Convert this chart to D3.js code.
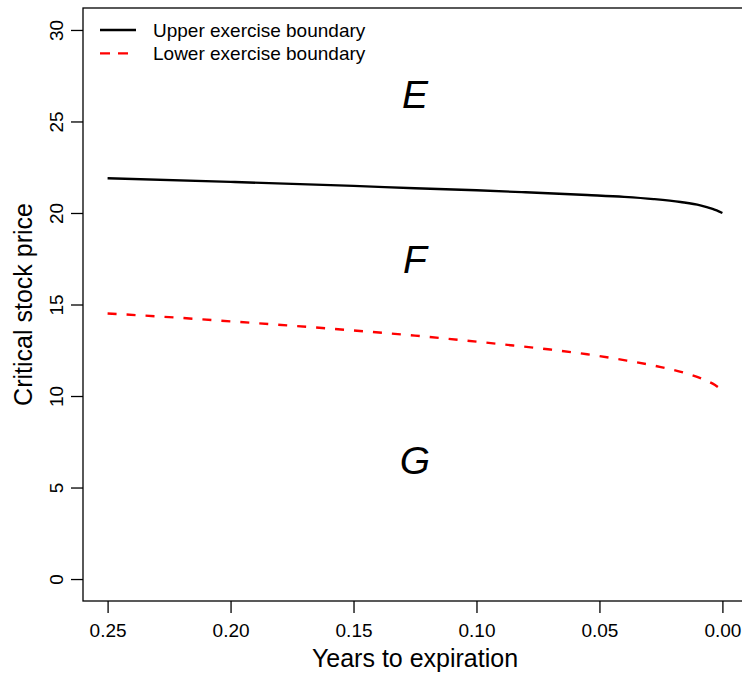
<!DOCTYPE html>
<html>
<head>
<meta charset="utf-8">
<script src="https://cdnjs.cloudflare.com/ajax/libs/d3/7.8.5/d3.min.js"></script>
<style>
  html, body { margin: 0; padding: 0; background: #fff; }
  svg { display: block; font-family: "Liberation Sans", Arial, Helvetica, sans-serif; }
</style>
</head>
<body>
<svg id="chart" width="742" height="673"></svg>
<script>
// ---- data ----
const upperT = [0.25, 0.20, 0.15, 0.125, 0.10, 0.08, 0.055, 0.04, 0.028, 0.017, 0.009, 0.004, 0];
const upperV = [21.9, 21.7, 21.48, 21.35, 21.24, 21.13, 20.98, 20.88, 20.76, 20.6, 20.42, 20.22, 20.0];
const lowerT = [0.25, 0.225, 0.20, 0.175, 0.15, 0.125, 0.10, 0.085, 0.07, 0.055, 0.04, 0.025, 0.015, 0.008, 0.003, 0];
const lowerV = [14.51, 14.31, 14.08, 13.84, 13.58, 13.30, 12.97, 12.76, 12.54, 12.28, 11.96, 11.58, 11.25, 10.93, 10.6, 10.3];
const xTicks = [0.25, 0.20, 0.15, 0.10, 0.05, 0.00];
const yTicks = [0, 5, 10, 15, 20, 25, 30];
const regionLabels = ["E", "F", "G"];
const regionY = [26.5, 17.5, 6.5];
const regionX = [0.125, 0.125, 0.125];
const seriesNames = ["Upper exercise boundary", "Lower exercise boundary"];
const seriesColors = ["#000000", "#ff0000"];
const xTitle = "Years to expiration";
const yTitle = "Critical stock price";

// ---- layout ----
const svg = d3.select("#chart");
const mLeft = 83, mRight = 747, mTop = 8, mBottom = 601;

const x = d3.scaleLinear().domain([0.26, -0.01]).range([mLeft, mRight]);
const y = d3.scaleLinear().domain([-1.2, 31.2]).range([mBottom, mTop]);

// frame
svg.append("rect")
  .attr("x", mLeft).attr("y", mTop)
  .attr("width", mRight - mLeft).attr("height", mBottom - mTop)
  .attr("fill", "none").attr("stroke", "#000").attr("stroke-width", 1.3);

// x axis
const gx = svg.append("g").attr("transform", `translate(0,${mBottom})`)
  .call(d3.axisBottom(x).tickValues(xTicks).tickFormat(d3.format(".2f")).tickSize(12).tickSizeOuter(0));
gx.select(".domain").remove();
gx.selectAll(".tick line").attr("stroke", "#000").attr("stroke-width", 1.3);
gx.selectAll(".tick text").attr("y", 36).attr("dy", 0)
  .attr("font-size", 19).attr("fill", "#000")
  .attr("font-family", "'Liberation Sans', Arial, sans-serif");

// y axis
const gy = svg.append("g").attr("transform", `translate(${mLeft},0)`)
  .call(d3.axisLeft(y).tickValues(yTicks).tickSize(12).tickSizeOuter(0));
gy.select(".domain").remove();
gy.selectAll(".tick line").attr("stroke", "#000").attr("stroke-width", 1.3);
gy.selectAll(".tick text")
  .attr("x", 0).attr("dy", 0)
  .attr("transform", "translate(-20,0) rotate(-90)")
  .attr("text-anchor", "middle")
  .attr("font-size", 19).attr("fill", "#000")
  .attr("font-family", "'Liberation Sans', Arial, sans-serif");

// axis titles
svg.append("text")
  .attr("x", (mLeft + mRight) / 2).attr("y", 667)
  .attr("text-anchor", "middle").attr("font-size", 25).attr("fill", "#000")
  .text(xTitle);
svg.append("text")
  .attr("transform", `translate(32,${(mTop + mBottom) / 2}) rotate(-90)`)
  .attr("text-anchor", "middle").attr("font-size", 25).attr("fill", "#000")
  .text(yTitle);

// lines
const line = d3.line().x(d => x(d[0])).y(d => y(d[1])).curve(d3.curveMonotoneX);
const upperData = upperT.map((t, i) => [t, upperV[i]]);
const lowerData = lowerT.map((t, i) => [t, lowerV[i]]);

svg.append("path").datum(upperData)
  .attr("d", line).attr("fill", "none")
  .attr("stroke", seriesColors[0]).attr("stroke-width", 2.4);
svg.append("path").datum(lowerData)
  .attr("d", line).attr("fill", "none")
  .attr("stroke", seriesColors[1]).attr("stroke-width", 2.4)
  .attr("stroke-dasharray", "9,10");

// region labels
svg.selectAll("text.region").data(regionLabels).enter().append("text")
  .attr("class", "region")
  .attr("x", (d, i) => x(regionX[i]))
  .attr("y", (d, i) => y(regionY[i]) + 14)
  .attr("text-anchor", "middle")
  .attr("font-size", 39).attr("font-style", "italic").attr("fill", "#000")
  .text(d => d);

// legend
const leg = svg.append("g");
seriesNames.forEach((name, i) => {
  const yy = 30 + i * 23.4;
  leg.append("line")
    .attr("x1", 100).attr("x2", 136).attr("y1", yy).attr("y2", yy)
    .attr("stroke", seriesColors[i]).attr("stroke-width", 2.4)
    .attr("stroke-dasharray", i === 1 ? "10,8" : null);
  leg.append("text")
    .attr("x", 153).attr("y", yy + 7)
    .attr("font-size", 19).attr("fill", "#000")
    .text(name);
});
</script>
</body>
</html>
